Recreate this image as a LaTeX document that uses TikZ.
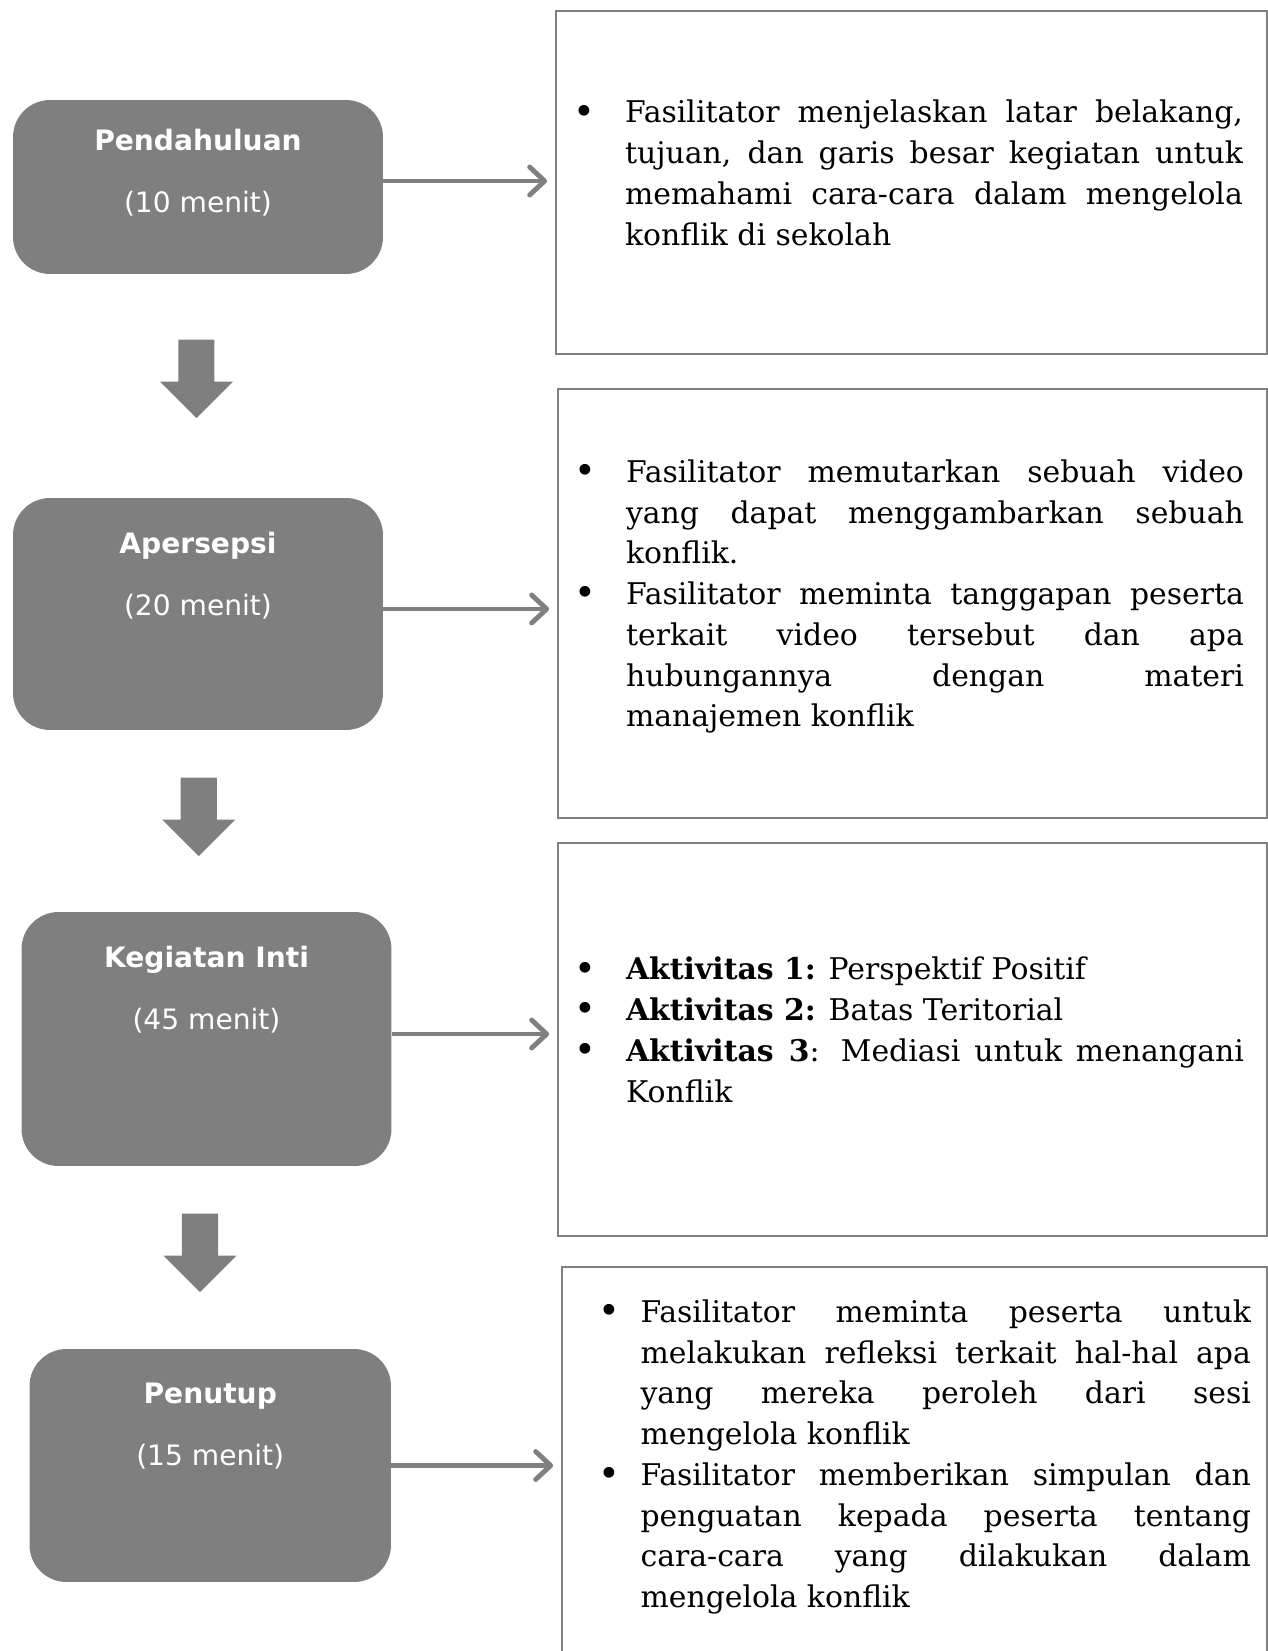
\documentclass[tikz,border=0pt]{standalone}
\usepackage{fontspec}
\setmainfont{DejaVu Serif}
\newfontfamily\phasefont{DejaVu Sans}
\usepackage{enumitem}
\usepackage{tikz}
\usetikzlibrary{shapes.arrows, arrows.meta, positioning}
\definecolor{stepgray}{HTML}{7F7F7F}
\definecolor{framegray}{HTML}{808080}
\newcommand{\notebullet}{\raisebox{-0.8pt}{\fontsize{21}{21}\selectfont\textbullet}}
\setlist[itemize]{nosep, label=\notebullet, leftmargin=0.9cm, labelsep=0.6cm, labelwidth=0.3cm, align=right}

\begin{document}
\begin{tikzpicture}[
    x=0.02cm, y=-0.02cm,
    phase/.style={rectangle, rounded corners=0.74cm, fill=stepgray, minimum width=7.4cm, inner sep=0pt},
    phaselabel/.style={text=white, align=center, inner sep=0pt, font=\phasefont\fontsize{16}{35.2}\selectfont},
    info/.style={rectangle, draw=framegray, line width=1.1pt, inner sep=0pt},
    note/.style={text width=13.26cm, align=justify, inner sep=0pt, font=\fontsize{17}{23.2}\selectfont},
    down/.style={single arrow, fill=stepgray, inner xsep=0pt, inner ysep=0.355cm, minimum height=1.57cm, minimum width=1.45cm, single arrow head extend=0.37cm, rotate=-90},
    arrow/.style={-{Straight Barb[length=0.3cm, width=0.56cm, round]}, line width=2.8pt, draw=framegray, shorten >=0.16cm}
]
\useasboundingbox (0,0) rectangle (1268,1651);

% left column
\node[phase, minimum height=3.48cm] (pend) at (198,187) {};
\node[phase, minimum height=4.64cm] (aper) at (198,614) {};
\node[phase, minimum height=5.08cm] (inti) at (206.5,1039) {};
\node[phase, minimum height=4.66cm, minimum width=7.23cm] (tutup) at (210.25,1465.5) {};

\node[phaselabel, below=0.59cm of pend.north] (pendlabel) {\textbf{Pendahuluan}\\(10 menit)};
\node[phaselabel, below=0.68cm of aper.north] (aperlabel) {\textbf{Apersepsi}\\(20 menit)};
\node[phaselabel, below=0.68cm of inti.north] (intilabel) {\textbf{Kegiatan Inti}\\(45 menit)};
\node[phaselabel, below=0.68cm of tutup.north] (tutuplabel) {\textbf{Penutup}\\(15 menit)};

\node[down] (down1) at (196.4,369.8) {};
\node[down] (down2) at (198.7,807.8) {};
\node[down] (down3) at (200,1243.8) {};

% right column
\node[info, minimum width=14.22cm, minimum height=6.87cm] (pendinfo) at (911.5,182.25) {};
\node[info, minimum width=14.18cm, minimum height=8.58cm] (aperinfo) at (912.5,603.5) {};
\node[info, minimum width=14.18cm, minimum height=7.87cm] (intiinfo) at (912.5,1039.25) {};
\node[info, minimum width=14.1cm, minimum height=7.84cm] (tutupinfo) at (914.5,1463) {};

\node[note, yshift=0.37cm] (pendnote) at (pendinfo.center) {\begin{itemize}
\item Fasilitator menjelaskan latar belakang, \linebreak tujuan, dan garis besar kegiatan untuk \linebreak memahami cara-cara dalam mengelola \linebreak konflik di sekolah
\end{itemize}};
\node[note, yshift=0.32cm] (apernote) at (aperinfo.center) {\begin{itemize}
\item Fasilitator memutarkan sebuah video \linebreak yang dapat menggambarkan sebuah \linebreak konflik.
\item Fasilitator meminta tanggapan peserta \linebreak terkait video tersebut dan apa \linebreak hubungannya dengan materi \linebreak manajemen konflik
\end{itemize}};
\node[note, yshift=0.37cm] (intinote) at (intiinfo.center) {\begin{itemize}
\item \textbf{Aktivitas 1:} Perspektif Positif
\item \textbf{Aktivitas 2:} Batas Teritorial
\item \textbf{Aktivitas 3}: Mediasi untuk menangani \linebreak Konflik
\end{itemize}};
\node[note, text width=13.46cm, yshift=0.3cm] (tutupnote) at (tutupinfo.center) {\begin{itemize}[leftmargin=1.25cm, labelsep=0.4cm, labelwidth=0.85cm]
\item Fasilitator meminta peserta untuk \linebreak melakukan refleksi terkait hal-hal apa \linebreak yang mereka peroleh dari sesi \linebreak mengelola konflik
\item Fasilitator memberikan simpulan dan \linebreak penguatan kepada peserta tentang \linebreak cara-cara yang dilakukan dalam \linebreak mengelola konflik
\end{itemize}};

% connectors
\coordinate (pendout) at ([yshift=0.12cm]pend.east);
\coordinate (aperout) at ([yshift=0.1cm]aper.east);
\coordinate (intiout) at ([yshift=0.1cm]inti.east);
\coordinate (tutupout) at (tutup.east);
\draw[arrow] (pendout) -- (pendout -| pendinfo.west);
\draw[arrow] (aperout) -- (aperout -| aperinfo.west);
\draw[arrow] (intiout) -- (intiout -| intiinfo.west);
\draw[arrow] (tutupout) -- (tutupout -| tutupinfo.west);

\end{tikzpicture}
\end{document}
